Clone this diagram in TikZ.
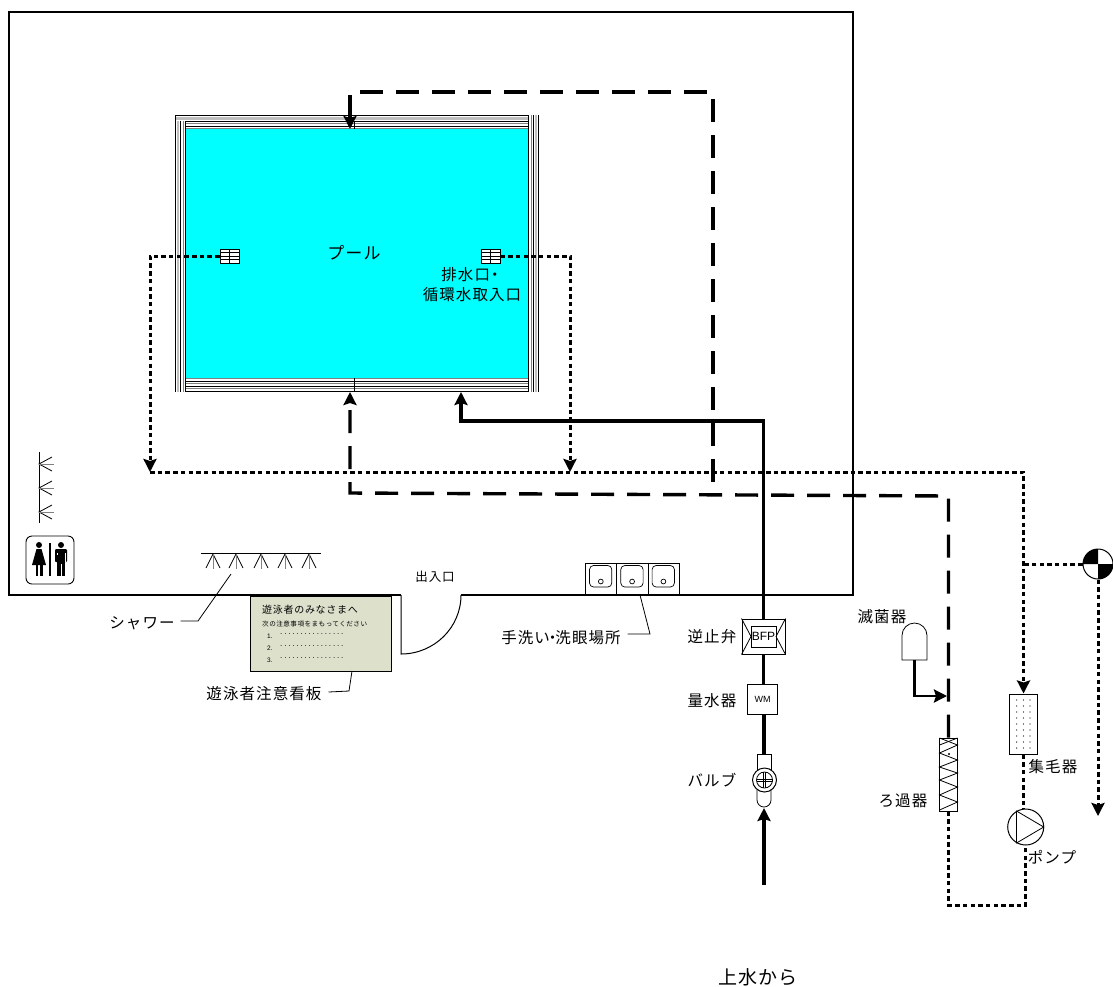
\documentclass[tikz,border=0pt]{standalone}
\usepackage{fontspec}
\setmainfont[LetterSpace=7]{Noto Sans CJK JP}
\newfontfamily\latinfont{Liberation Sans}
\newfontfamily\dotsfont[LetterSpace=23]{Liberation Sans}
\usetikzlibrary{arrows.meta}
\definecolor{poolblue}{RGB}{0,255,255}
\definecolor{boardgreen}{RGB}{221,225,204}
\tikzset{
  lbl/.style={inner sep=0pt,outer sep=3pt,font=\fontsize{15.5}{18}\selectfont},
  tip/.style={-{Stealth[width=13pt,length=13pt,inset=2pt]}},
  supply/.style={draw=black,line width=3.4pt},
  feed/.style={draw=black,line width=3.4pt,dash pattern=on 23pt off 13pt},
  drain/.style={draw=black,line width=3pt,dash pattern=on 4.5pt off 3.2pt},
  leader/.style={draw=black,line width=0.8pt},
  unit/.style={draw=black,line width=1pt,fill=white,inner sep=0pt}
}
\begin{document}
\begin{tikzpicture}[x=1pt,y=-1pt]
  \useasboundingbox (0,0) rectangle (1113,986);
  % building
  \draw[line width=1.9pt] (401,595) -- (9,595) -- (9,12) -- (853,12) -- (853,595) -- (461,595);
  \draw[line width=1pt] (401,595) -- (401,654) arc (90:0:60 and 59);
  % pool
  \node[draw=none,fill=poolblue,minimum width=343pt,minimum height=249pt,inner sep=0pt] (water) at (356.5,253.5) {};
  \fill[white] (175,115) rectangle (528,129);
  \foreach \y/\c/\w in {115.3/black/0.7,118.5/lightgray/2.5,121/black/0.9,123.5/gray/0.9,126/black/0.9,128.6/gray/1.4}
    \draw[\c,line width=\w pt] (175,\y) -- (539,\y);
  \foreach \y/\c/\w in {378.6/gray/1.4,381/black/0.9,383.5/gray/0.9,386/black/0.9,388.8/gray/0.9,391.7/black/0.9}
    \draw[\c,line width=\w pt] (175,\y) -- (539,\y);
  \fill[white] (175,121) rectangle (186,392);
  \fill[white] (528,115) rectangle (539,392);
  \foreach \x/\c/\w in {175.4/black/0.8,178/lightgray/2.4,180.5/black/0.9,183/gray/0.9,185.6/black/0.9}
    \draw[\c,line width=\w pt] (\x,121) -- (\x,392);
  \foreach \x/\c/\w in {528.6/black/0.9,531/gray/0.9,533.5/black/0.9,536/lightgray/2.4,538.7/black/0.8}
    \draw[\c,line width=\w pt] (\x,115) -- (\x,392);
  \draw[line width=0.8pt] (175,115.3) -- (175,121);
  \draw[line width=0.8pt] (354.5,122) -- (354.5,129);
  \draw[line width=0.8pt] (354.5,378) -- (354.5,392);
  \foreach \name/\x in {gratel/229.5,grater/490.5} {
    \node[draw=black,fill=white,line width=0.8pt,minimum width=19pt,minimum height=14pt,inner sep=0pt] (\name) at (\x,256) {};
    \draw[line width=0.7pt] (\x,249) -- (\x,263);
    \foreach \y in {252.5,256,259.5} \draw[line width=0.7pt] (\x-9.5,\y) -- (\x+9.5,\y);
  }
  \node[lbl,font=\fontsize{17}{20}\selectfont] (lblpool) at (354,253) {プール};
  \node[lbl] (lblintake) at (472,285) {\parbox{110pt}{\centering\baselineskip=20pt 排水口\kern-3pt ・\\循環水取入口}};
  % showers
  \draw[line width=0.8pt] (39,452) -- (39,523);
  \foreach \y in {464,488,512} {
    \draw[line width=0.8pt] (52,\y-7) -- (39,\y) -- (52,\y+7);
    \draw[gray,line width=0.8pt] (39,\y) -- (54,\y);
  }
  \draw[line width=0.8pt] (201,553.5) -- (321,553.5);
  \foreach \x in {213,236,261,285,309} {
    \draw[line width=0.8pt] (\x-7,568) -- (\x,554) -- (\x+7,568);
    \draw[gray,line width=0.8pt] (\x,554) -- (\x,569);
  }
  % restroom sign
  \draw[line width=0.9pt,rounded corners=6pt] (26,536) rectangle (74,584);
  \fill (49,543) rectangle (51,576);
  \fill (39,545) circle (3);
  \fill (36.5,549) -- (41.5,549) -- (46,565) -- (32,565) -- cycle;
  \fill (35.5,565) rectangle (38,576);
  \fill (40,565) rectangle (42.5,576);
  \fill (61,545) circle (3);
  \fill[rounded corners=1pt] (55,549) rectangle (67,562);
  \fill[white] (56.7,553) rectangle (57.4,562);
  \fill[white] (64.6,553) rectangle (65.3,562);
  \fill (57.4,555) rectangle (64.6,564);
  \fill (57.4,563) rectangle (60.5,576);
  \fill (61.5,563) rectangle (64.6,576);
  % notice board
  \node[draw=black,fill=boardgreen,line width=0.8pt,minimum width=141pt,minimum height=75pt,inner sep=0pt] (board) at (320.5,634) {};
  \node[anchor=west,inner sep=0pt,font=\fontsize{10}{11}\selectfont] (boardtitle) at (262,610) {遊泳者のみなさまへ};
  \node[anchor=west,inner sep=0pt,font=\fontsize{6.6}{8}\selectfont] (boardsub) at (262,624) {次の注意事項をまもってください};
  \foreach \y/\n in {636/1,648/2,660/3} {
    \node[anchor=west,inner sep=0pt,font=\latinfont\fontsize{6.5}{8}\selectfont] (rule\n) at (267,\y) {\n.};
    \node[anchor=west,inner sep=0pt,font=\dotsfont\fontsize{8}{8}\selectfont] (dots\n) at (280,\y-1.5) {................};
  }
  % sinks
  \foreach \x/\n in {585/a,616.3/b,647.6/c} {
    \node[draw=black,line width=0.7pt,minimum width=31.3pt,minimum height=32pt,inner sep=0pt,anchor=north west] (sink\n) at (\x,563) {};
    \draw[line width=0.7pt,rounded corners=4pt] (\x+4.5,565.5) rectangle (\x+26.8,587);
    \draw[line width=0.7pt] (\x+15.8,581.5) circle (2.4);
  }
  % equipment
  \node[unit,minimum width=43pt,minimum height=35pt] (bfp) at (763.5,636.5) {};
  \coordinate (bfpl) at (751,636.5);
  \coordinate (bfpr) at (776,636.5);
  \draw[line width=0.8pt] (bfp.north west) -- (bfpl) -- (bfp.south west);
  \draw[line width=0.8pt] (bfp.north east) -- (bfpr) -- (bfp.south east);
  \node[draw=black,line width=1pt,inner sep=0pt,minimum width=25pt,minimum height=21pt,font=\latinfont\fontsize{12}{13}\selectfont] (bfpin) at (763.5,636.5) {BFP};
  \node[unit,minimum width=30pt,minimum height=30pt,font=\latinfont\fontsize{9}{11}\selectfont] (wm) at (762.5,699) {WM};
  \node[unit,minimum width=14pt,minimum height=17pt] (ballin) at (764,762.5) {};
  \draw[line width=0.8pt] (757,790) -- (757,800) arc (180:0:7) -- (771,790);
  \node[unit,circle,minimum size=24pt] (ball) at (764.5,780) {};
  \draw[line width=0.8pt] (764.5,780) circle (8);
  \draw[line width=0.8pt] (763.5,772) -- (763.5,788) (765.5,772) -- (765.5,788) (756.5,779) -- (772.5,779) (756.5,781) -- (772.5,781);
  \coordinate (ballout) at (764,808);
  \coordinate (source) at (764,885);
  \node[unit,circle,minimum size=36pt] (pump) at (1025.7,827) {};
  \draw[line width=0.8pt] (1016.5,811) -- (1043.7,827) -- (1016.5,843) -- cycle;
  \node[unit,minimum width=28pt,minimum height=60pt] (hair) at (1023.5,724) {};
  \foreach \x in {1016.7,1023.5,1030}
    \foreach \y in {700,706,712,718,724,730,736,742,748}
      \fill (\x,\y) circle (0.7);
  \node[unit,minimum width=18.5pt,minimum height=73pt] (filter) at (948.5,774.5) {};
  \draw[line width=0.8pt] (939.5,738) -- (957.5,745) -- (939.5,753) -- (957.5,760) -- (939.5,767) -- (957.5,773) -- (939.5,780) -- (957.5,787) -- (939.5,795) -- (957.5,802) -- (939.5,810);
  \draw[line width=0.8pt] (957.5,738) -- (939.5,745);
  \fill (949,754) circle (1.2);
  \node[draw=none,minimum width=25pt,minimum height=37pt,inner sep=0pt] (steril) at (914.5,641.5) {};
  \draw[line width=0.8pt] (902,660) -- (902,635.5) arc (180:360:12.5) -- (927,660) -- cycle;
  \node[draw=black,circle,line width=1pt,fill=white,minimum size=30pt,inner sep=0pt] (mix) at (1098,564) {};
  \fill (1098,564) -- (1083,564) arc (180:270:15) -- cycle;
  \fill (1098,564) -- (1113,564) arc (0:90:15) -- cycle;
  % piping
  \coordinate (inlet) at (350,129);
  \coordinate (inleft) at (350,392);
  \coordinate (inwater) at (461,392);
  \coordinate (turna) at (350,92);
  \coordinate (turnb) at (713,92);
  \coordinate (turnc) at (713,482);
  \coordinate (turnd) at (948.5,496);
  \coordinate (turne) at (350,493);
  \coordinate (turnf) at (763.5,421);
  \coordinate (dropl) at (150,472);
  \coordinate (dropr) at (570,472);
  \coordinate (basin) at (948.5,905);
  \coordinate (outlet) at (1098,816);
  \coordinate (dosein) at (947,696);
  \path[supply,tip] (bfp.north) -- (turnf) -| (inwater);
  \path[supply] (bfp.south) -- (bfp.south |- wm.north);
  \path[supply] (wm.south -| ballin) -- (ballin.north);
  \path[supply,tip] (source) -- (ballout);
  \path[supply,tip,line width=2.8pt] (steril.south) |- (dosein);
  \path[feed,tip] (turnc) -- (turnb) -- (turna) -- (inlet);
  \path[feed,tip] (filter.north) -- (turnd) -- (turne) -- (inleft);
  \path[drain,tip] (gratel.west) -| (dropl);
  \path[drain,tip] (grater.east) -| (dropr);
  \path[drain,tip] (dropl) -| (hair.north);
  \path[drain] (mix.west) -- (mix.west -| hair.north);
  \path[drain,tip] (mix.south) -- (outlet);
  \path[drain] (filter.south) -- (basin) -| (pump.south);
  \path[drain] (hair.south) -- (hair.south |- pump.north);
  % labels
  \node[lbl,font=\fontsize{12.5}{14}\selectfont] (lbldoor) at (435,577) {出入口};
  \node[lbl] (lblshower) at (142,623) {シャワー};
  \node[lbl] (lblboard) at (264,694) {遊泳者注意看板};
  \node[lbl] (lblsink) at (561,638) {手洗い\kern-5pt ・\kern-5pt 洗眼場所};
  \node[lbl] (lblcheck) at (712,637) {逆止弁};
  \node[lbl] (lblmeter) at (712,701) {量水器};
  \node[lbl] (lblvalve) at (712,780) {バルブ};
  \node[lbl] (lblsteril) at (882,617) {滅菌器};
  \node[lbl] (lblfilter) at (903,801) {ろ過器};
  \node[lbl] (lblhair) at (1053,767) {集毛器};
  \node[lbl] (lblpump) at (1052,857) {ポンプ};
  \node[lbl,font=\fontsize{19}{22}\selectfont] (lblsource) at (758,977) {上水から};
  \coordinate (showerend) at (231,574);
  \coordinate (boardend) at (352,671);
  \coordinate (sinkend) at (640,595);
  \path[leader] (lblshower.east) ++(3,-2) -- (198,621) -- (showerend);
  \path[leader] (lblboard.east) ++(4,-2) -- (349,691) -- (boardend);
  \path[leader] (lblsink.east) ++(4,-4) -- (650,634) -- (sinkend);
\end{tikzpicture}
\end{document}
